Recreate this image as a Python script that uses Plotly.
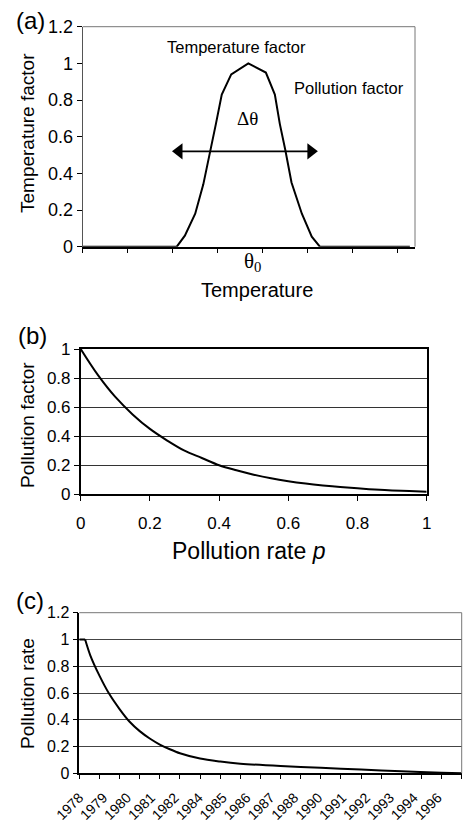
import plotly.graph_objects as go

W, H = 463, 825

# ---------------- data ----------------
# (a) temperature factor (arbitrary temperature units, theta0 at the peak)
temp_x = [0, 2.09, 2.27, 2.50, 2.68, 2.83, 2.96, 3.09, 3.30, 3.68, 4.07, 4.27, 4.38, 4.50, 4.64, 4.87, 5.09, 5.27, 7.27]
temp_factor = [0, 0, 0.06, 0.18, 0.34, 0.51, 0.67, 0.83, 0.94, 1.0, 0.95, 0.83, 0.67, 0.53, 0.35, 0.18, 0.055, 0, 0]
temp_ticks = [0, 1, 2, 3, 4, 5, 6, 7]
delta_theta = [2.0, 5.21]      # extent of the double arrow
delta_level = 0.52

# (b) pollution factor vs pollution rate p
poll_rate = [0, 0.05, 0.1, 0.15, 0.2, 0.25, 0.3, 0.35, 0.4, 0.45, 0.5,
             0.55, 0.6, 0.65, 0.7, 0.75, 0.8, 0.85, 0.9, 0.95, 1.0]
poll_factor = [1.0, 0.82, 0.67, 0.55, 0.45, 0.37, 0.30, 0.25, 0.20, 0.165, 0.135,
               0.11, 0.09, 0.074, 0.061, 0.05, 0.041, 0.033, 0.027, 0.022, 0.018]
rate_ticks = [0, 0.2, 0.4, 0.6, 0.8, 1]
rate_ticktext = ['0', '0.2', '0.4', '0.6', '0.8', '1']

# (c) pollution rate over time (time index along the category axis)
time_idx = [0, 0.29, 0.55, 1.0, 1.5, 2.0, 2.5, 3.0, 3.5, 4.0, 4.5, 5.0, 6.0,
            7.0, 8.0, 10.0, 12.0, 14.0, 16.0, 18.0, 19.0]
poll_rate_t = [1, 1, 0.88, 0.73, 0.59, 0.48, 0.385, 0.315, 0.26, 0.215, 0.18, 0.15, 0.11,
               0.088, 0.072, 0.054, 0.041, 0.028, 0.015, 0.004, 0.0]
year_labels = ['1978', '1979', '1980', '1981', '1982', '1984', '1985', '1986',
               '1987', '1988', '1990', '1991', '1992', '1993', '1994', '1996']
n_categories = 19
year_label_pos = [i * n_categories / len(year_labels) for i in range(len(year_labels))]
time_ticks = list(range(n_categories + 1))

y12_ticks = [0, 0.2, 0.4, 0.6, 0.8, 1.0, 1.2]
y12_text = ['0', '0.2', '0.4', '0.6', '0.8', '1', '1.2']
y1_ticks = [0, 0.2, 0.4, 0.6, 0.8, 1.0]
y1_text = ['0', '0.2', '0.4', '0.6', '0.8', '1']

# ---------------- figure ----------------
FONT = 'Liberation Sans, Arial, sans-serif'
SERIF = 'Liberation Serif, Times New Roman, serif'


def px(x):
    return x / W


def py(y):
    return 1 - y / H


fig = go.Figure()
fig.add_trace(go.Scatter(x=temp_x, y=temp_factor, mode='lines', line=dict(color='black', width=2),
                         xaxis='x', yaxis='y', showlegend=False, hoverinfo='skip'))
# double arrow (triangle heads inset so their tips reach the arrow extent)
inset = 0.14
fig.add_trace(go.Scatter(x=[delta_theta[0] + inset, delta_theta[1] - inset], y=[delta_level, delta_level],
                         mode='lines+markers', line=dict(color='black', width=1.6),
                         marker=dict(symbol=['triangle-left', 'triangle-right'], size=14, color='black',
                                     line=dict(width=0)),
                         xaxis='x', yaxis='y', showlegend=False, hoverinfo='skip', cliponaxis=False))
fig.add_trace(go.Scatter(x=poll_rate, y=poll_factor, mode='lines',
                         line=dict(color='black', width=2, shape='spline'),
                         xaxis='x2', yaxis='y2', showlegend=False, hoverinfo='skip'))
# (c): flat start, then smooth decay
fig.add_trace(go.Scatter(x=time_idx[:2], y=poll_rate_t[:2], mode='lines',
                         line=dict(color='black', width=2),
                         xaxis='x3', yaxis='y3', showlegend=False, hoverinfo='skip'))
fig.add_trace(go.Scatter(x=time_idx[1:], y=poll_rate_t[1:], mode='lines',
                         line=dict(color='black', width=2, shape='spline', smoothing=0.8),
                         xaxis='x3', yaxis='y3', showlegend=False, hoverinfo='skip'))
# invisible trace so the tick-mark overlay axis is drawn
fig.add_trace(go.Scatter(x=[0, 19], y=[None, None], mode='lines', xaxis='x4', yaxis='y3',
                         showlegend=False, hoverinfo='skip'))

tickfont_a = dict(family=FONT, size=18, color='black')
tickfont_b = dict(family=FONT, size=17, color='black')
tickfont_c = dict(family=FONT, size=16, color='black')

common = dict(showgrid=False, zeroline=False, automargin=False, ticks='outside', ticklen=5,
              tickcolor='black', tickwidth=1)

fig.update_layout(
    width=W, height=H, margin=dict(l=0, r=0, t=0, b=0),
    paper_bgcolor='white', plot_bgcolor='white', showlegend=False,
    xaxis=dict(domain=[px(82.7), px(415)], range=[0, 7.384], anchor='y',
               tickmode='array', tickvals=temp_ticks, showticklabels=False,
               showline=True, linecolor='black', linewidth=1.5, **common),
    yaxis=dict(domain=[py(246.7), py(26.7)], range=[0, 1.2], anchor='x',
               tickmode='array', tickvals=y12_ticks, ticktext=y12_text, tickfont=tickfont_a,
               showline=True, linecolor='#555', linewidth=1, **common),
    xaxis2=dict(domain=[px(80.7), px(426.7)], range=[0, 1], anchor='y2',
                tickmode='array', tickvals=rate_ticks, ticktext=rate_ticktext, tickfont=tickfont_b,
                ticklabelstandoff=8,
                showline=True, linecolor='black', linewidth=1.5, mirror=True, **common),
    yaxis2=dict(domain=[py(494.3), py(349)], range=[0, 1], anchor='x2',
                tickmode='array', tickvals=y1_ticks, ticktext=y1_text, tickfont=tickfont_b,
                showline=True, linecolor='black', linewidth=1.5, mirror=True,
                **{**common, 'showgrid': True}, gridcolor='#333', gridwidth=1),
    xaxis3=dict(domain=[px(79.3), px(461.7)], range=[0, n_categories], anchor='y3',
                tickmode='array', tickvals=year_label_pos, ticktext=year_labels, tickangle=-45,
                tickfont=dict(family=FONT, size=14, color='black'), ticklabelstandoff=9,
                showline=True, linecolor='black', linewidth=1.5,
                showgrid=False, zeroline=False, automargin=False, ticks='', ticklen=0),
    xaxis4=dict(domain=[px(79.3), px(461.7)], range=[0, n_categories], anchor='y3', overlaying='x3',
                side='bottom', tickmode='array', tickvals=time_ticks, showticklabels=False,
                showline=False, **common),
    yaxis3=dict(domain=[py(773.3), py(612.7)], range=[0, 1.2], anchor='x3',
                tickmode='array', tickvals=y12_ticks, ticktext=y12_text, tickfont=tickfont_c,
                showline=True, linecolor='black', linewidth=1.5,
                **{**common, 'showgrid': True}, gridcolor='#444', gridwidth=1),
)

# thin grey frame edges for (a) and (c)
for xr, yr in (('x', 'y'), ('x3', 'y3')):
    fig.add_shape(type='line', xref=xr + ' domain', yref=yr + ' domain', x0=0, x1=1, y0=1, y1=1,
                  line=dict(color='#777', width=1))
    fig.add_shape(type='line', xref=xr + ' domain', yref=yr + ' domain', x0=1, x1=1, y0=0, y1=1,
                  line=dict(color='#777', width=1))


def text(x, y, s, size, family=FONT, angle=0, xanchor='center'):
    fig.add_annotation(x=px(x), y=py(y), xref='paper', yref='paper', text=s, showarrow=False,
                       font=dict(family=family, size=size, color='black'), textangle=angle,
                       xanchor=xanchor, yanchor='middle')


text(30, 20, '(a)', 24)
text(32, 336, '(b)', 24)
text(30, 600, '(c)', 24)
text(27, 133, 'Temperature factor', 19, angle=-90)
text(27, 425, 'Pollution factor', 19, angle=-90)
text(27, 694, 'Pollution rate', 19, angle=-90)
text(236.7, 46.7, 'Temperature factor', 16.5)
text(348.5, 88, 'Pollution factor', 16.5)
text(247.5, 118, 'Δθ', 19, family=SERIF)
text(252, 262, 'θ<sub>0</sub>', 21, family=SERIF)
text(257, 290, 'Temperature', 20)
text(249, 551, 'Pollution rate <i>p</i>', 23)

fig.write_html('out.html', config={'displayModeBar': False},
               post_script="document.body.style.margin='0';document.body.style.overflow='hidden';")
